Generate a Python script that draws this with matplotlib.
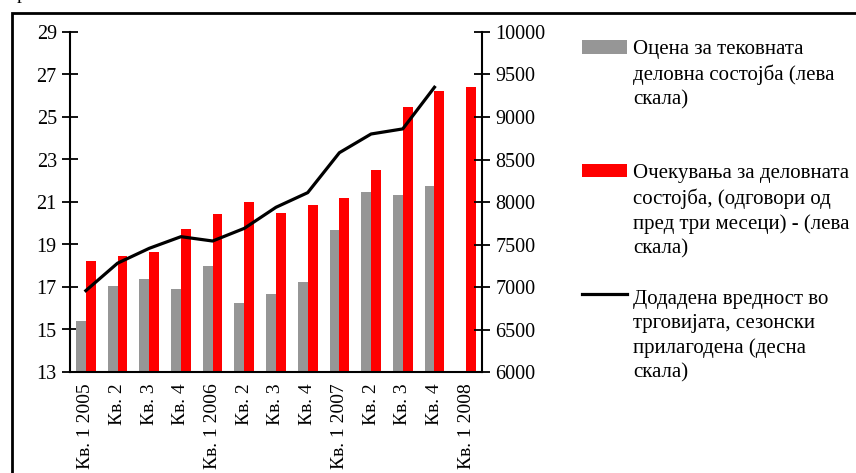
import matplotlib
matplotlib.use("Agg")
import matplotlib.pyplot as plt
import numpy as np
from matplotlib.patches import Rectangle
from matplotlib.lines import Line2D

categories = ["Кв. 1 2005", "Кв. 2", "Кв. 3", "Кв. 4",
              "Кв. 1 2006", "Кв. 2", "Кв. 3", "Кв. 4",
              "Кв. 1 2007", "Кв. 2", "Кв. 3", "Кв. 4",
              "Кв. 1 2008"]
current_state = [15.4, 17.05, 17.38, 16.9, 18.0, 16.25, 16.67, 17.25,
                 19.68, 21.47, 21.34, 21.75, np.nan]
expectations = [18.22, 18.47, 18.63, 19.73, 20.44, 21.0, 20.47, 20.84,
                21.17, 22.5, 25.46, 26.24, 26.4]
value_added = [6957, 7280, 7455, 7592, 7541, 7690, 7938, 8110,
               8580, 8800, 8860, 9350, np.nan]

left_ticks = [13, 15, 17, 19, 21, 23, 25, 27, 29]
right_ticks = [6000, 6500, 7000, 7500, 8000, 8500, 9000, 9500, 10000]

legend_labels = [
    "Оцена за тековната\nделовна состојба (лева\nскала)",
    "Очекувања за деловната\nсостојба, (одговори од\nпред три месеци) - (лева\nскала)",
    "Додадена вредност во\nтрговијата, сезонски\nприлагодена (десна\nскала)",
]

GRAY = "#969696"
RED = "#FF0000"

plt.rcParams["font.family"] = ["Liberation Serif", "DejaVu Serif"]

W, H = 856, 473
fig = plt.figure(figsize=(W / 100, H / 100), dpi=100)

def fx(px):
    return px / W

def fy(py):
    return 1 - py / H

ax = fig.add_axes([fx(70), fy(372), fx(482) - fx(70), fy(32) - fy(372)])
ax2 = ax.twinx()

x = np.arange(len(categories))
bw = 0.31
ax.bar(x - bw / 2, current_state, width=bw, color=GRAY, zorder=2)
ax.bar(x + bw / 2, expectations, width=bw, color=RED, zorder=2)
ax2.plot(x, value_added, color="black", lw=2.3, zorder=3)

ax.set_xlim(-0.5, len(categories) - 0.5)
ax.set_ylim(13, 29)
ax2.set_ylim(6000, 10000)
ax.set_yticks(left_ticks)
ax2.set_yticks(right_ticks)
ax.set_xticks(x)
ax.set_xticklabels(categories, rotation=90, fontsize=14, va="top", ha="center")
ax.tick_params(axis="x", length=0, pad=8)
ax.tick_params(axis="y", direction="inout", length=11, width=1.3, labelsize=14.5, pad=4)
ax2.tick_params(axis="y", direction="inout", length=11, width=1.3, labelsize=14.5, pad=4)

for a in (ax, ax2):
    a.spines["top"].set_visible(False)
    for s in a.spines.values():
        s.set_linewidth(1.5)
ax.spines["right"].set_visible(False)
ax2.spines["left"].set_visible(False)
ax2.spines["bottom"].set_visible(False)

# outer frame (figure extends beyond crop on right and bottom)
fig.patches.append(Rectangle((fx(12), fy(H + 20)), fx(W + 40) - fx(12), fy(13) - fy(H + 20),
                             transform=fig.transFigure, fill=False, lw=2, edgecolor="black",
                             clip_on=False))
# descender of a cropped heading letter above the frame
fig.text(fx(17), fy(-1), "р", fontsize=14, va="baseline", ha="left")

# legend
lx0, lx1, tx = 582, 627, 633
entries = [(47, 41, "patch", GRAY), (170.5, 165, "patch", RED), (294, 291, "line", "black")]
for (ly, ty, kind, col), lab in zip(entries, legend_labels):
    if kind == "patch":
        fig.patches.append(Rectangle((fx(lx0), fy(ly + 6.5)), fx(lx1) - fx(lx0), fy(ly - 6.5) - fy(ly + 6.5),
                                     transform=fig.transFigure, color=col, lw=0))
    else:
        fig.lines.append(Line2D([fx(lx0), fx(lx1)], [fy(ly), fy(ly)], transform=fig.transFigure,
                                color=col, lw=2.3))
    fig.text(fx(tx), fy(ty - 1), lab, fontsize=15, va="top", ha="left", linespacing=1.37)

fig.savefig("out.png", dpi=100)
